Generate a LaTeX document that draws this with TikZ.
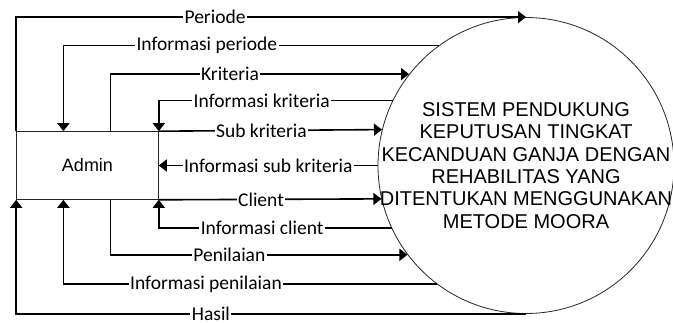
\documentclass[tikz,border=0pt]{standalone}
\usepackage{fontspec}
\setmainfont{Liberation Sans}
\newfontfamily\flowfont{Carlito}
\usetikzlibrary{positioning,arrows.meta}
\tikzset{
  hv/.style={to path={-| (\tikztotarget) \tikztonodes}},
  vh/.style={to path={|- (\tikztotarget) \tikztonodes}},
  flow/.style={fill=white,inner xsep=1.5pt,inner ysep=0.3pt,font=\flowfont\fontsize{19.5}{21}\selectfont}
}

\begin{document}
\begin{tikzpicture}[x=1pt,y=-1pt,node distance=438.5pt,on grid,>={Triangle[length=8pt,width=12pt]}]
    \useasboundingbox (0,0) rectangle (673,323);
    \node[draw=black!85,line width=1pt,minimum width=141.6pt,minimum height=67.6pt,inner sep=0pt,
      font=\fontsize{18}{20}\selectfont] (admin) at (87.5,165.5) {Admin};
    \node[circle,draw=black!85,line width=0.8pt,minimum size=296pt,inner sep=0pt] (sys) [right = of admin] {};
    \node[align=center,font=\fontsize{20}{22.3}\selectfont] (systext) at (sys) {SISTEM PENDUKUNG\\KEPUTUSAN TINGKAT\\KECANDUAN GANJA DENGAN\\REHABILITAS YANG\\DITENTUKAN MENGGUNAKAN\\METODE MOORA};
    \coordinate[right=47.2pt of admin.north west] (t1);
    \coordinate[right=94.4pt of admin.north west] (t2);
    \coordinate[right=47.2pt of admin.south west] (b1);
    \coordinate[right=94.4pt of admin.south west] (b2);
    \path[->,line width=1.6pt]
    (admin.north west) edge[vh] node[flow,pos=0.695] {Periode} (sys.north)
    (sys.126.16) edge[hv] node[flow,pos=0.309] {Informasi periode} (t1)
    (t2) edge[vh] node[flow,pos=0.70] {Kriteria} (sys.142.06)
    (sys.154.81) edge[hv] node[flow,pos=0.28] {Informasi kriteria} (admin.north east)
    (admin.north east) edge node[flow,pos=0.46] {Sub kriteria} (sys.166.8)
    (sys.west) edge node[flow,pos=0.5] {Informasi sub kriteria} (admin.east)
    (admin.south east) edge node[flow,pos=0.459] {Client} (sys.193.2)
    (sys.205.19) edge[hv] node[flow,pos=0.278] {Informasi client} (admin.south east)
    (b2) edge[vh] node[flow,pos=0.70] {Penilaian} (sys.217.94)
    (sys.233.84) edge[hv] node[flow,pos=0.309] {Informasi penilaian} (b1)
    (sys.south) edge[hv] node[flow,pos=0.309] {Hasil} (admin.south west);
  \end{tikzpicture}
\end{document}
